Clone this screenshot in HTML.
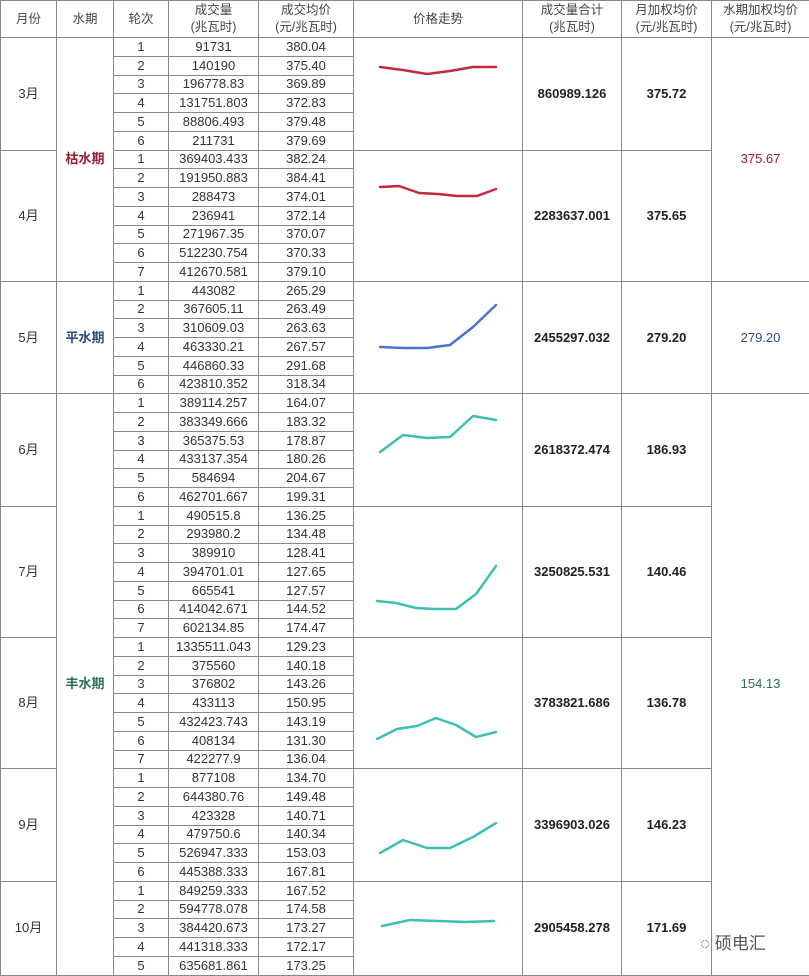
<!DOCTYPE html>
<html><head><meta charset="utf-8"><style>
html,body{margin:0;padding:0;background:#fff;}
body{width:809px;height:976px;position:relative;overflow:hidden;}
table{border-collapse:collapse;table-layout:fixed;width:809px;font-family:"Liberation Sans","Noto Sans CJK SC",sans-serif;font-size:13px;color:#333;position:absolute;left:0;top:0;}
td{border:1px solid #888;text-align:center;padding:0;height:17.76px;line-height:14px;white-space:nowrap;overflow:hidden;}
tr.h td{height:36px;line-height:17px;font-size:12.5px;color:#444;}
.b{font-weight:bold;color:#222;}
.k{color:#9b1b30;font-weight:bold;font-size:13px;}
.p{color:#2e4a7f;font-weight:bold;font-size:13px;}
.f{color:#2e6e5e;font-weight:bold;font-size:13px;}
.w{font-size:13px;}
svg{position:absolute;left:0;top:0;}
</style></head><body>
<table>
<colgroup><col style="width:56px"><col style="width:57px"><col style="width:55px"><col style="width:90px"><col style="width:95px"><col style="width:169px"><col style="width:99px"><col style="width:90px"><col style="width:98px"></colgroup>
<tr class="h"><td>月份</td><td>水期</td><td>轮次</td><td>成交量<br>(兆瓦时)</td><td>成交均价<br>(元/兆瓦时)</td><td>价格走势</td><td>成交量合计<br>(兆瓦时)</td><td>月加权均价<br>(元/兆瓦时)</td><td>水期加权均价<br>(元/兆瓦时)</td></tr>
<tr><td rowspan="6">3月</td><td rowspan="13" class="k">枯水期</td><td>1</td><td>91731</td><td>380.04</td><td rowspan="6"></td><td rowspan="6" class="b">860989.126</td><td rowspan="6" class="b">375.72</td><td rowspan="13" class="w" style="color:#9b1b30">375.67</td></tr>
<tr><td>2</td><td>140190</td><td>375.40</td></tr>
<tr><td>3</td><td>196778.83</td><td>369.89</td></tr>
<tr><td>4</td><td>131751.803</td><td>372.83</td></tr>
<tr><td>5</td><td>88806.493</td><td>379.48</td></tr>
<tr><td>6</td><td>211731</td><td>379.69</td></tr>
<tr><td rowspan="7">4月</td><td>1</td><td>369403.433</td><td>382.24</td><td rowspan="7"></td><td rowspan="7" class="b">2283637.001</td><td rowspan="7" class="b">375.65</td></tr>
<tr><td>2</td><td>191950.883</td><td>384.41</td></tr>
<tr><td>3</td><td>288473</td><td>374.01</td></tr>
<tr><td>4</td><td>236941</td><td>372.14</td></tr>
<tr><td>5</td><td>271967.35</td><td>370.07</td></tr>
<tr><td>6</td><td>512230.754</td><td>370.33</td></tr>
<tr><td>7</td><td>412670.581</td><td>379.10</td></tr>
<tr><td rowspan="6">5月</td><td rowspan="6" class="p">平水期</td><td>1</td><td>443082</td><td>265.29</td><td rowspan="6"></td><td rowspan="6" class="b">2455297.032</td><td rowspan="6" class="b">279.20</td><td rowspan="6" class="w" style="color:#2e4a7f">279.20</td></tr>
<tr><td>2</td><td>367605.11</td><td>263.49</td></tr>
<tr><td>3</td><td>310609.03</td><td>263.63</td></tr>
<tr><td>4</td><td>463330.21</td><td>267.57</td></tr>
<tr><td>5</td><td>446860.33</td><td>291.68</td></tr>
<tr><td>6</td><td>423810.352</td><td>318.34</td></tr>
<tr><td rowspan="6">6月</td><td rowspan="31" class="f">丰水期</td><td>1</td><td>389114.257</td><td>164.07</td><td rowspan="6"></td><td rowspan="6" class="b">2618372.474</td><td rowspan="6" class="b">186.93</td><td rowspan="31" class="w" style="color:#2e6e5e">154.13</td></tr>
<tr><td>2</td><td>383349.666</td><td>183.32</td></tr>
<tr><td>3</td><td>365375.53</td><td>178.87</td></tr>
<tr><td>4</td><td>433137.354</td><td>180.26</td></tr>
<tr><td>5</td><td>584694</td><td>204.67</td></tr>
<tr><td>6</td><td>462701.667</td><td>199.31</td></tr>
<tr><td rowspan="7">7月</td><td>1</td><td>490515.8</td><td>136.25</td><td rowspan="7"></td><td rowspan="7" class="b">3250825.531</td><td rowspan="7" class="b">140.46</td></tr>
<tr><td>2</td><td>293980.2</td><td>134.48</td></tr>
<tr><td>3</td><td>389910</td><td>128.41</td></tr>
<tr><td>4</td><td>394701.01</td><td>127.65</td></tr>
<tr><td>5</td><td>665541</td><td>127.57</td></tr>
<tr><td>6</td><td>414042.671</td><td>144.52</td></tr>
<tr><td>7</td><td>602134.85</td><td>174.47</td></tr>
<tr><td rowspan="7">8月</td><td>1</td><td>1335511.043</td><td>129.23</td><td rowspan="7"></td><td rowspan="7" class="b">3783821.686</td><td rowspan="7" class="b">136.78</td></tr>
<tr><td>2</td><td>375560</td><td>140.18</td></tr>
<tr><td>3</td><td>376802</td><td>143.26</td></tr>
<tr><td>4</td><td>433113</td><td>150.95</td></tr>
<tr><td>5</td><td>432423.743</td><td>143.19</td></tr>
<tr><td>6</td><td>408134</td><td>131.30</td></tr>
<tr><td>7</td><td>422277.9</td><td>136.04</td></tr>
<tr><td rowspan="6">9月</td><td>1</td><td>877108</td><td>134.70</td><td rowspan="6"></td><td rowspan="6" class="b">3396903.026</td><td rowspan="6" class="b">146.23</td></tr>
<tr><td>2</td><td>644380.76</td><td>149.48</td></tr>
<tr><td>3</td><td>423328</td><td>140.71</td></tr>
<tr><td>4</td><td>479750.6</td><td>140.34</td></tr>
<tr><td>5</td><td>526947.333</td><td>153.03</td></tr>
<tr><td>6</td><td>445388.333</td><td>167.81</td></tr>
<tr><td rowspan="5">10月</td><td>1</td><td>849259.333</td><td>167.52</td><td rowspan="5"></td><td rowspan="5" class="b">2905458.278</td><td rowspan="5" class="b">171.69</td></tr>
<tr><td>2</td><td>594778.078</td><td>174.58</td></tr>
<tr><td>3</td><td>384420.673</td><td>173.27</td></tr>
<tr><td>4</td><td>441318.333</td><td>172.17</td></tr>
<tr><td>5</td><td>635681.861</td><td>173.25</td></tr>
</table>
<svg width="809" height="976" fill="none" stroke-width="2.5" stroke-linejoin="round" stroke-linecap="round">
<polyline stroke="#c4283c" points="380,67 403,70 427,74 450,71 473,67 496,67"/>
<polyline stroke="#c4283c" points="380,187 399,186 419,193 438,194 457,196 477,196 496,189"/>
<polyline stroke="#4a72d0" points="380,347 403,348 427,348 450,345 473,327 496,305"/>
<polyline stroke="#3cc0b0" points="380,452 403,435 427,438 450,437 473,416 496,420"/>
<polyline stroke="#3cc0b0" points="377,601 396,603 416,608 435,609 456,609 476,594 496,566"/>
<polyline stroke="#3cc0b0" points="377,739 397,729 417,726 436,718 456,725 476,737 496,732"/>
<polyline stroke="#3cc0b0" points="380,853 403,840 427,848 450,848 473,837 496,823"/>
<polyline stroke="#3cc0b0" points="382,926 410,920 438,921 466,922 494,921"/>
</svg>
<div style="position:absolute;left:700px;top:929px;font-family:'Liberation Sans','Noto Sans CJK SC',sans-serif;font-size:17px;color:#555;">◌ 硕电汇</div>
</body></html>
